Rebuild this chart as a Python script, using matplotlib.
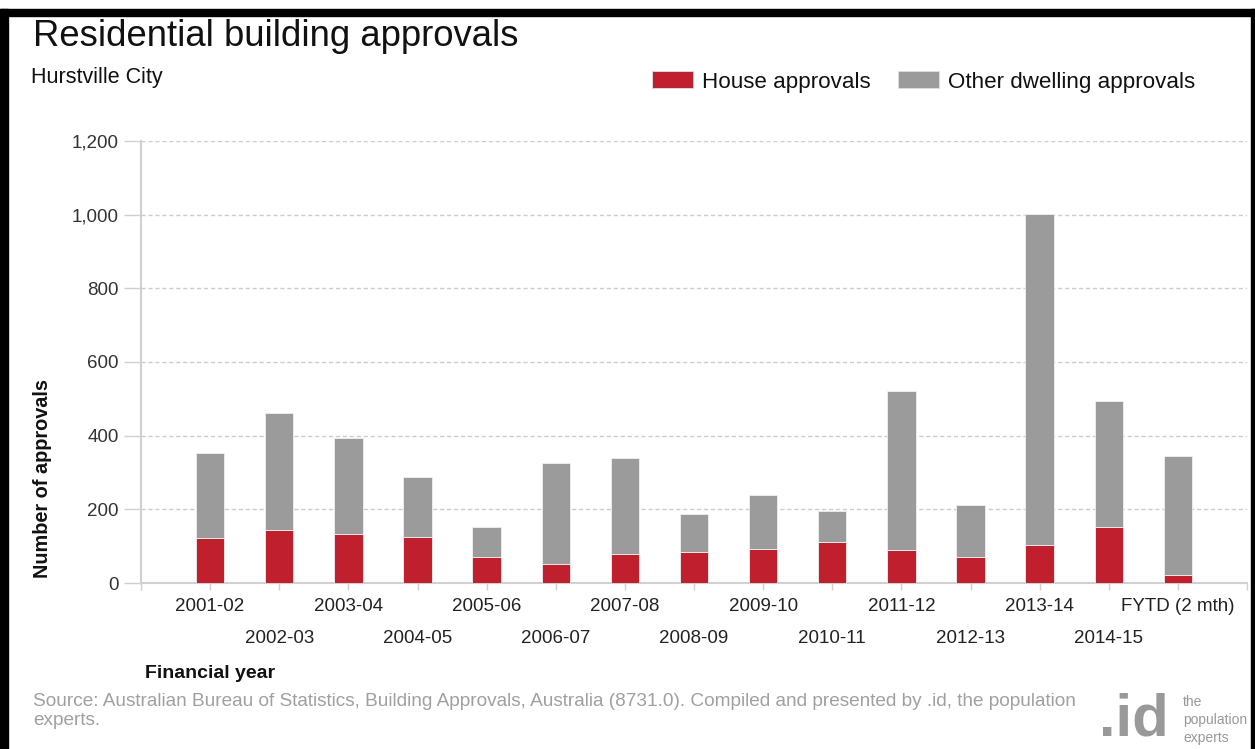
import matplotlib
matplotlib.use("Agg")
import matplotlib.pyplot as plt
from matplotlib.patches import Rectangle, Patch
import numpy as np

plt.rcParams['font.family'] = ['Liberation Sans', 'DejaVu Sans']

# data
years = ['2001-02', '2002-03', '2003-04', '2004-05', '2005-06', '2006-07',
         '2007-08', '2008-09', '2009-10', '2010-11', '2011-12', '2012-13',
         '2013-14', '2014-15', 'FYTD (2 mth)']
house = [121, 144, 134, 125, 71, 52, 80, 84, 93, 111, 89, 71, 102, 152, 21]
total = [353, 462, 395, 289, 151, 326, 339, 188, 239, 195, 522, 212, 1001, 494, 344]
other = [t - h for t, h in zip(total, house)]
yticks = [0, 200, 400, 600, 800, 1000, 1200]

RED = '#c01f2e'
GREY = '#9b9b9b'
LIGHT = '#d0d0d0'
W, H = 1255, 749

fig = plt.figure(figsize=(W / 100, H / 100), dpi=100)
fig.patch.set_facecolor('white')

# black frame of the screenshot
for (x0, y0, w, h) in [(0, 9, W, 7), (0, 9, 8, H - 9), (W - 4, 9, 3, H - 9)]:
    fig.patches.append(Rectangle((x0 / W, 1 - (y0 + h) / H), w / W, h / H,
                                 transform=fig.transFigure, color='black', zorder=0))

ax = fig.add_axes([141 / W, 1 - 583 / H, (1247 - 141) / W, (583 - 141) / H])
x = np.arange(len(years))
ax.bar(x, house, width=0.41, color=RED, edgecolor='#f0f0f0', linewidth=0.6, zorder=3)
ax.bar(x, other, bottom=house, width=0.41, color=GREY, edgecolor='#f0f0f0',
       linewidth=0.6, zorder=3)

ax.set_xlim(-1, 15)
ax.set_ylim(0, 1200)
ax.set_yticks(yticks)
ax.set_yticklabels([f'{v:,}' for v in yticks])
ax.yaxis.grid(True, color='#cccccc', linestyle=(0, (3, 2)), linewidth=1, zorder=0)

for s in ['top', 'right']:
    ax.spines[s].set_visible(False)
for s in ['left', 'bottom']:
    ax.spines[s].set_color(LIGHT)
    ax.spines[s].set_linewidth(1.5)

ax.tick_params(axis='y', length=12, color=LIGHT, width=1, pad=4,
               labelsize=13.5, labelcolor='#333333')
ax.set_xticks(x)
ax.set_xticks([-1, 15], minor=True)
ax.set_xticklabels(years)
ax.tick_params(axis='x', which='both', length=5, color=LIGHT, width=1,
               labelsize=13.5, labelcolor='#222222', pad=6)
for i, t in enumerate(ax.xaxis.get_major_ticks()):
    if i % 2 == 1:
        t.set_pad(6 + 22.5)

# titles
fig.text(33 / W, 1 - 36 / H, 'Residential building approvals', fontsize=26.3,
         color='#111111', va='center', ha='left')
fig.text(31 / W, 1 - 77 / H, 'Hurstville City', fontsize=15.5,
         color='#111111', va='center', ha='left')
fig.text(43 / W, 1 - 479 / H, 'Number of approvals', fontsize=14.3,
         fontweight='bold', rotation=90, va='center', ha='center', color='#111111')
fig.text(145 / W, 1 - 673 / H, 'Financial year', fontsize=14,
         fontweight='bold', va='center', ha='left', color='#111111')

# legend
handles = [Patch(facecolor=RED, edgecolor='#e0e0e0', linewidth=0.6),
           Patch(facecolor=GREY, edgecolor='#e0e0e0', linewidth=0.6)]
fig.legend(handles, ['House approvals', 'Other dwelling approvals'],
           loc='center left', bbox_to_anchor=(652 / W, 1 - 82 / H), ncol=2,
           frameon=False, fontsize=16.1, handlelength=1.85, handleheight=0.8,
           handletextpad=0.4, columnspacing=1.2, borderpad=0, borderaxespad=0,
           labelcolor='#111111')

# source note
fig.text(33 / W, 1 - 711 / H,
         'Source: Australian Bureau of Statistics, Building Approvals, Australia (8731.0). '
         'Compiled and presented by .id, the population\nexperts.',
         fontsize=13.7, color='#a0a0a0', va='center', ha='left', linespacing=1.1)

# .id logo
fig.text(1099 / W, 1 - 748 / H, '.id', fontsize=43, fontweight='bold',
         color='#999999', va='bottom', ha='left')
fig.text(1183 / W, 1 - 720 / H, 'the\npopulation\nexperts', fontsize=10,
         color='#999999', va='center', ha='left', linespacing=1.4)

fig.savefig('out.png', dpi=100)
